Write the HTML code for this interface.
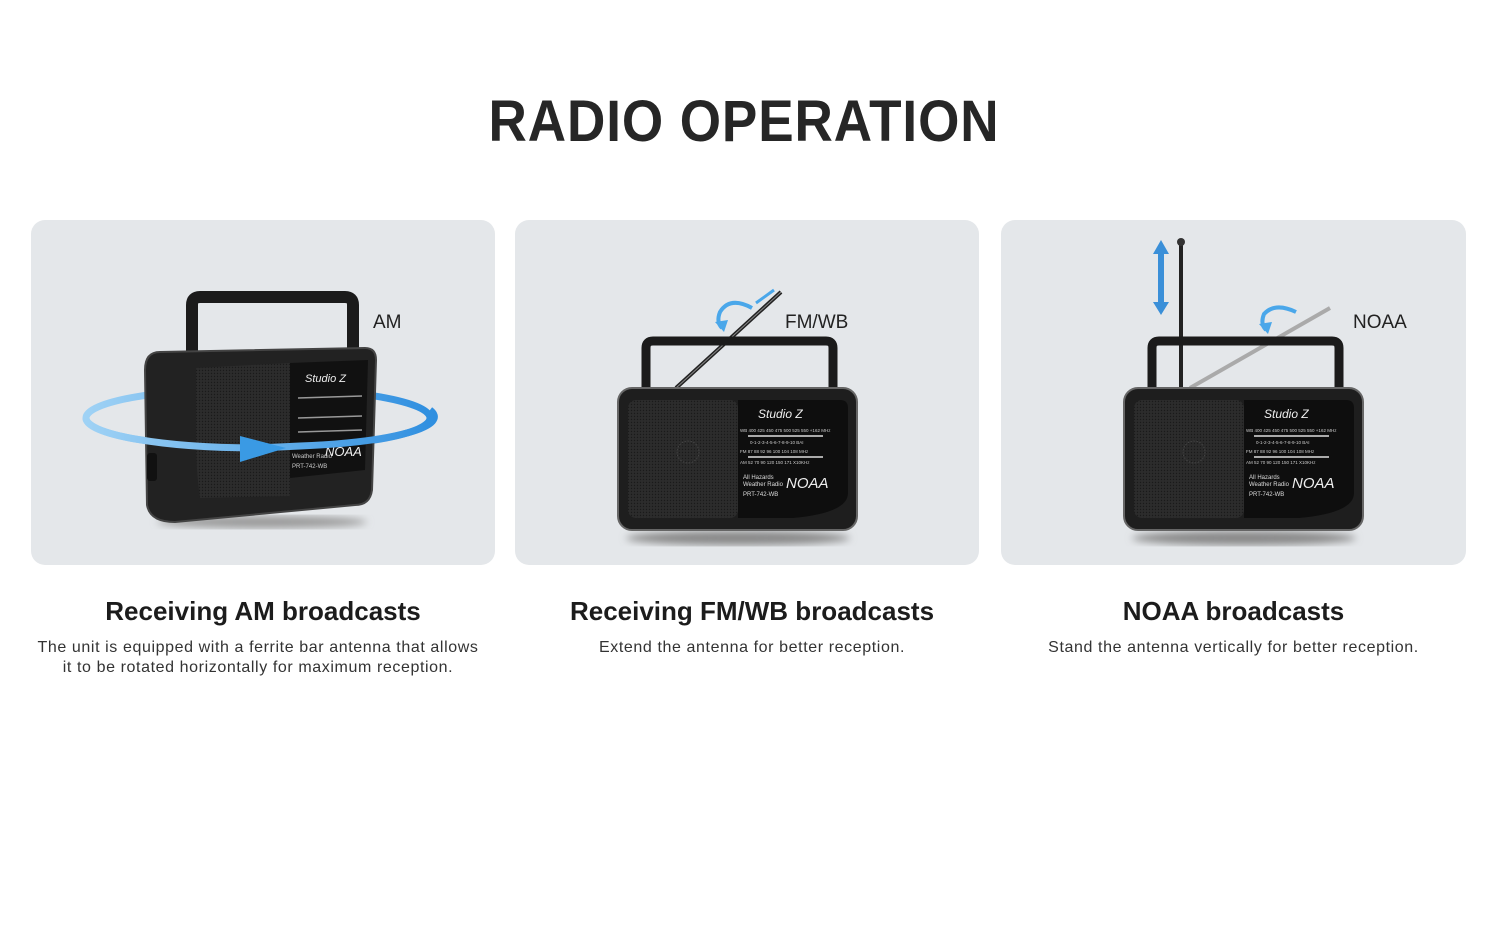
<!DOCTYPE html>
<html><head><meta charset="utf-8"><style>
body{margin:0;width:1500px;height:938px;background:#fff;font-family:"Liberation Sans",sans-serif;position:relative;overflow:hidden}
.t{position:absolute;left:-6px;width:1500px;top:88px;text-align:center;font-size:58px;font-weight:bold;color:#262626;transform:scaleX(0.915);letter-spacing:1px}
.p{position:absolute;top:220px;height:345px;background:#e4e7ea;border-radius:14px}
.h{position:absolute;top:596px;text-align:center;font-size:26px;font-weight:bold;color:#1c1c1c}
.d{position:absolute;top:638px;text-align:center;font-size:16px;line-height:20px;color:#333;letter-spacing:0.6px}
svg{position:absolute;left:0;top:0}
</style></head><body>
<div class="t">RADIO OPERATION</div>
<div class="p" style="left:31px;width:464px"></div>
<div class="p" style="left:515px;width:464px"></div>
<div class="p" style="left:1001px;width:465px"></div>

<svg width="1500" height="938" viewBox="0 0 1500 938">
<defs>
<pattern id="dots" width="3" height="3" patternUnits="userSpaceOnUse"><rect width="3" height="3" fill="#2c2c2c"/><circle cx="1.5" cy="1.5" r="0.7" fill="#1a1a1a"/></pattern>
<linearGradient id="bl" x1="0" x2="1"><stop offset="0" stop-color="#9fd2f5"/><stop offset="1" stop-color="#2f8fe0"/></linearGradient>
<filter id="bf"><feGaussianBlur stdDeviation="4"/></filter>
</defs>

<!-- Panel 1 AM radio -->
<ellipse cx="258" cy="418" rx="172" ry="30" fill="none" stroke="url(#bl)" stroke-width="7"/>
<ellipse cx="262" cy="522" rx="105" ry="6" fill="#999" filter="url(#bf)"/>
<path d="M192 358 V305 Q192 297 200 297 H345 Q353 297 353 305 V360" fill="none" stroke="#1b1b1b" stroke-width="12"/>
<path d="M160 352 L365 348 Q376 348 376 360 L372 490 Q370 505 355 505 L175 522 Q150 522 147 505 L145 370 Q145 352 160 352 Z" fill="#222" stroke="#444" stroke-width="2"/>
<path d="M196 368 L290 363 L290 496 L200 498 Q196 470 196 440 Z" fill="url(#dots)"/>
<path d="M290 363 L368 360 L365 470 L290 478 Z" fill="#111"/>
<text x="305" y="382" font-size="11" font-style="italic" fill="#eee">Studio Z</text>
<g stroke="#999" stroke-width="1.5"><line x1="298" y1="398" x2="362" y2="396"/><line x1="298" y1="418" x2="362" y2="416"/><line x1="298" y1="432" x2="362" y2="430"/></g>
<text x="292" y="458" font-size="6" fill="#ccc">Weather Radio</text>
<text x="325" y="456" font-size="13" font-style="italic" fill="#eee">NOAA</text>
<text x="292" y="468" font-size="6" fill="#ccc">PRT-742-WB</text>
<rect x="147" y="453" width="10" height="28" rx="3" fill="#111"/>
<path d="M86 418 A172 30 0 0 0 258 448 L300 446 A172 30 0 0 0 430 410" fill="none" stroke="url(#bl)" stroke-width="7"/>
<path d="M240 436 L286 448 L240 462 Z" fill="#3a9ae4"/>
<text x="373" y="328" font-size="19" fill="#222">AM</text>

<!-- Panel 2 -->
<line x1="676" y1="388" x2="781" y2="292" stroke="#222" stroke-width="4"/>
<line x1="676" y1="388" x2="781" y2="292" stroke="#888" stroke-width="1"/>
<path d="M752 308 Q730 296 720 312 Q716 322 722 328" fill="none" stroke="#4aa7ea" stroke-width="4"/>
<path d="M715 322 L724 332 L728 320 Z" fill="#4aa7ea"/>
<line x1="756" y1="303" x2="774" y2="290" stroke="#4aa7ea" stroke-width="3"/>
<text x="785" y="328" font-size="19" fill="#222">FM/WB</text>
<g transform="translate(618,388)">
<ellipse cx="120" cy="150" rx="112" ry="7" fill="#888" filter="url(#bf)"/>
<path d="M28 2 V-40 Q28 -47 35 -47 H208 Q215 -47 215 -40 V2" fill="none" stroke="#1b1b1b" stroke-width="9"/>
<rect x="0" y="0" width="239" height="142" rx="14" fill="#1e1e1e" stroke="#666" stroke-width="2"/>
<rect x="10" y="12" width="110" height="118" rx="8" fill="url(#dots)"/>
<circle cx="70" cy="64" r="11" fill="none" stroke="#444" stroke-dasharray="1.5 1.5"/>
<path d="M120 12 H222 Q230 12 230 20 V105 Q230 125 175 130 H120 Z" fill="#0e0e0e"/>
<text x="140" y="30" font-size="12" font-style="italic" fill="#eee">Studio Z</text>
<text x="122" y="44" font-size="4.5" fill="#ccc">WB   400   425   450 475 500 525 550   +162 MHz</text>
<line x1="130" y1="48" x2="205" y2="48" stroke="#aaa" stroke-width="2"/>
<text x="132" y="56" font-size="4.5" fill="#ccc">0-1-2-3-4-5-6-7-8-9-10              BAI</text>
<text x="122" y="65" font-size="4.5" fill="#ccc">FM   87   88   92   96   100   104  108          MHz</text>
<line x1="130" y1="69" x2="205" y2="69" stroke="#aaa" stroke-width="2"/>
<text x="122" y="76" font-size="4.5" fill="#ccc">AM   52    70    90   120   150   171       X10KHz</text>
<text x="125" y="91" font-size="6" fill="#ddd">All Hazards</text>
<text x="125" y="98" font-size="6" fill="#ddd">Weather Radio</text>
<text x="168" y="100" font-size="15" font-style="italic" fill="#eee">NOAA</text>
<text x="125" y="108" font-size="6" fill="#ddd">PRT-742-WB</text>
</g>

<!-- Panel 3 -->
<line x1="1181" y1="243" x2="1181" y2="390" stroke="#222" stroke-width="4"/>
<circle cx="1181" cy="242" r="4" fill="#333"/>
<line x1="1190" y1="388" x2="1330" y2="308" stroke="#aaa" stroke-width="4"/>
<line x1="1161" y1="250" x2="1161" y2="306" stroke="#3a8fd8" stroke-width="6"/>
<path d="M1153 254 L1161 240 L1169 254 Z M1153 302 L1161 315 L1169 302 Z" fill="#3a8fd8"/>
<path d="M1296 312 Q1275 302 1264 314 Q1260 324 1266 330" fill="none" stroke="#4aa7ea" stroke-width="4"/>
<path d="M1259 324 L1268 334 L1272 322 Z" fill="#4aa7ea"/>
<text x="1353" y="328" font-size="19" fill="#222">NOAA</text>
<g transform="translate(1124,388)">
<ellipse cx="120" cy="150" rx="112" ry="7" fill="#888" filter="url(#bf)"/>
<path d="M28 2 V-40 Q28 -47 35 -47 H208 Q215 -47 215 -40 V2" fill="none" stroke="#1b1b1b" stroke-width="9"/>
<rect x="0" y="0" width="239" height="142" rx="14" fill="#1e1e1e" stroke="#666" stroke-width="2"/>
<rect x="10" y="12" width="110" height="118" rx="8" fill="url(#dots)"/>
<circle cx="70" cy="64" r="11" fill="none" stroke="#444" stroke-dasharray="1.5 1.5"/>
<path d="M120 12 H222 Q230 12 230 20 V105 Q230 125 175 130 H120 Z" fill="#0e0e0e"/>
<text x="140" y="30" font-size="12" font-style="italic" fill="#eee">Studio Z</text>
<text x="122" y="44" font-size="4.5" fill="#ccc">WB   400   425   450 475 500 525 550   +162 MHz</text>
<line x1="130" y1="48" x2="205" y2="48" stroke="#aaa" stroke-width="2"/>
<text x="132" y="56" font-size="4.5" fill="#ccc">0-1-2-3-4-5-6-7-8-9-10              BAI</text>
<text x="122" y="65" font-size="4.5" fill="#ccc">FM   87   88   92   96   100   104  108          MHz</text>
<line x1="130" y1="69" x2="205" y2="69" stroke="#aaa" stroke-width="2"/>
<text x="122" y="76" font-size="4.5" fill="#ccc">AM   52    70    90   120   150   171       X10KHz</text>
<text x="125" y="91" font-size="6" fill="#ddd">All Hazards</text>
<text x="125" y="98" font-size="6" fill="#ddd">Weather Radio</text>
<text x="168" y="100" font-size="15" font-style="italic" fill="#eee">NOAA</text>
<text x="125" y="108" font-size="6" fill="#ddd">PRT-742-WB</text>
</g>
</svg>

<div class="h" style="left:31px;width:464px">Receiving AM broadcasts</div>
<div class="h" style="left:515px;width:474px">Receiving FM/WB broadcasts</div>
<div class="h" style="left:1001px;width:465px">NOAA broadcasts</div>
<div class="d" style="left:21px;width:474px">The unit is equipped with a ferrite bar antenna that allows<br>it to be rotated horizontally for maximum reception.</div>
<div class="d" style="left:515px;width:474px">Extend the antenna for better reception.</div>
<div class="d" style="left:1001px;width:465px">Stand the antenna vertically for better reception.</div>
</body></html>
